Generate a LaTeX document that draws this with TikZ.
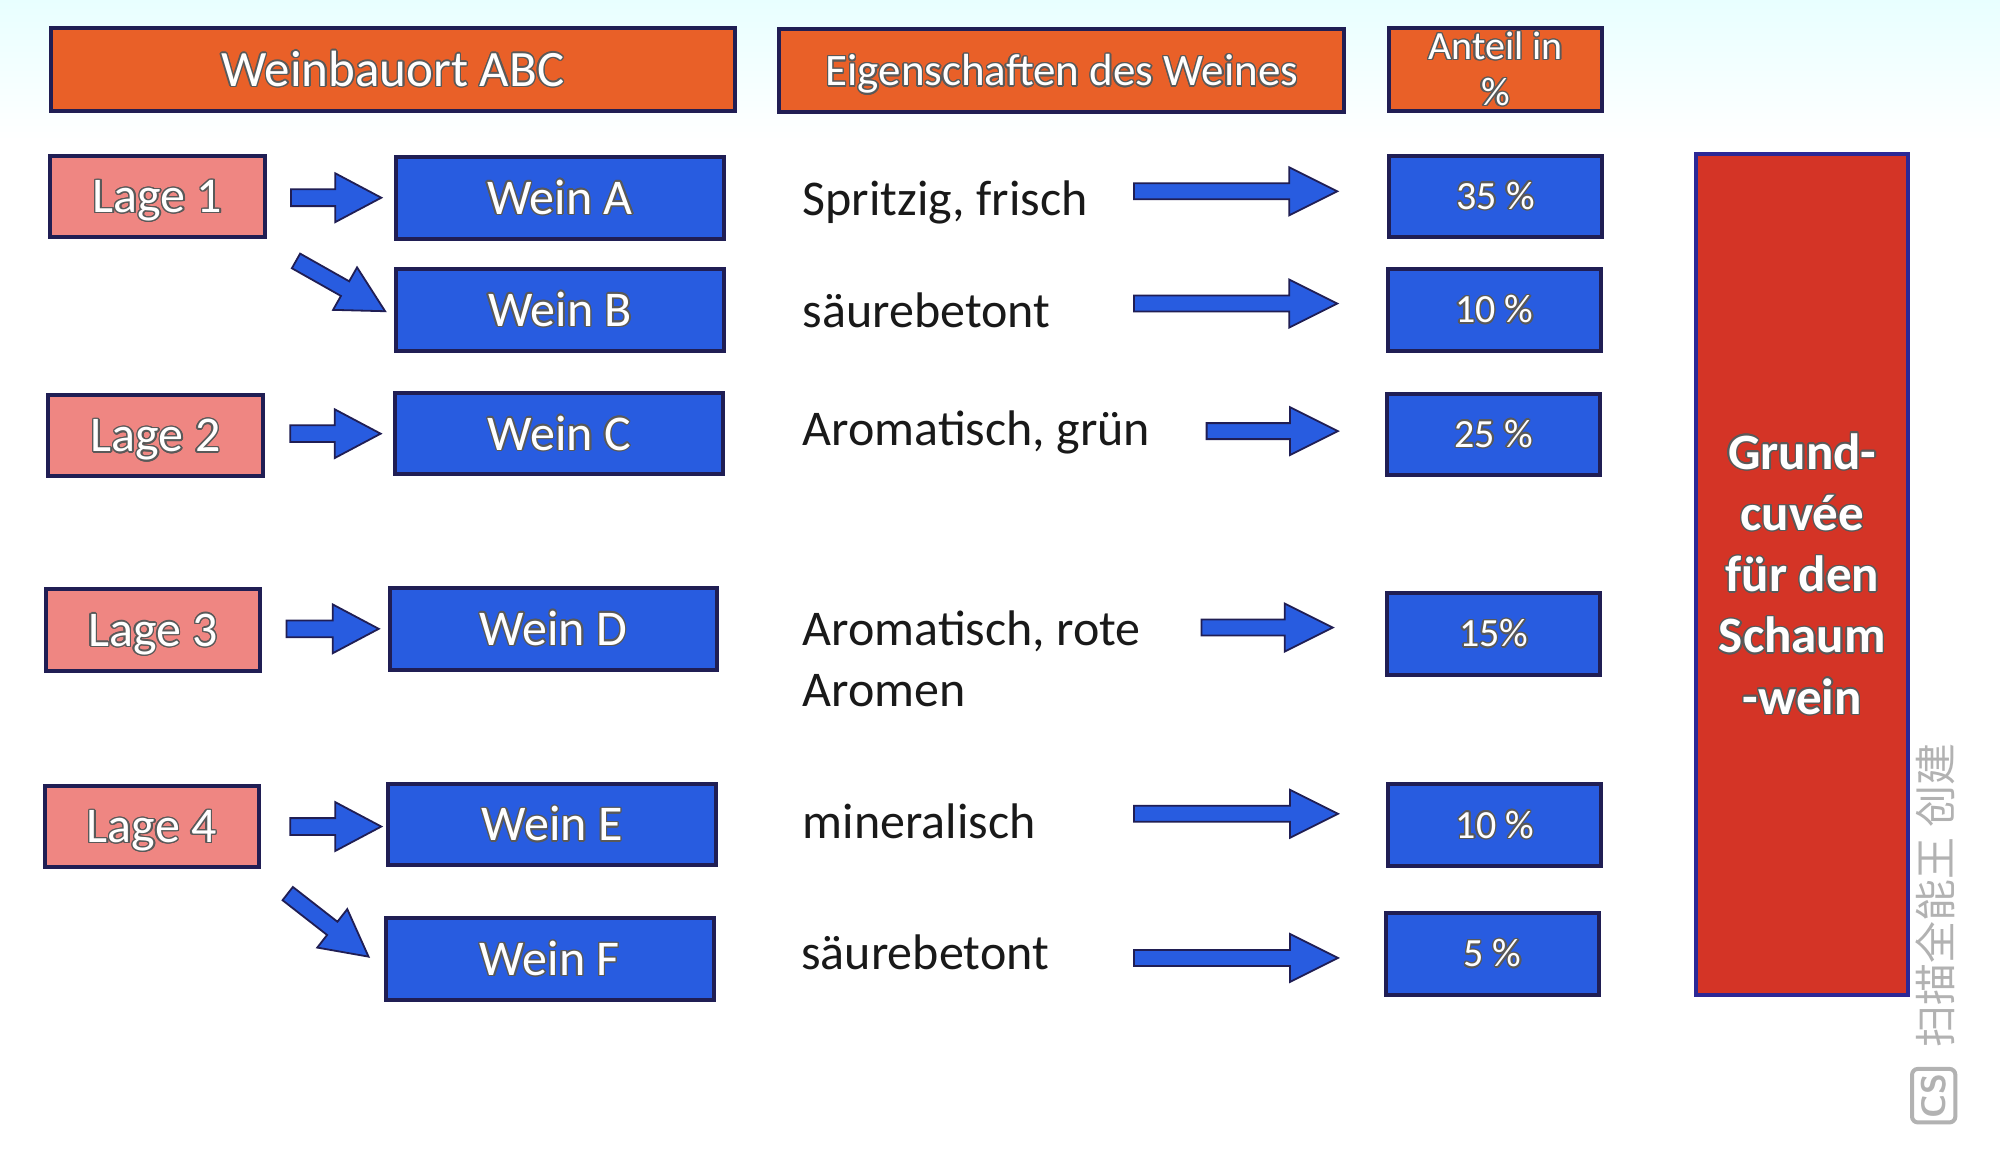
\documentclass[tikz,border=0pt]{standalone}
\usepackage{fontspec}
\setmainfont{Carlito}
\newfontfamily\cjk{Noto Sans CJK SC}
\usepackage{contour}
\contourlength{0.7pt}
\usetikzlibrary{calc}
\definecolor{navy}{RGB}{32,30,84}
\definecolor{orangeH}{RGB}{233,96,40}
\definecolor{salmon}{RGB}{239,134,130}
\definecolor{blueB}{RGB}{40,92,224}
\definecolor{redG}{RGB}{212,52,38}
\definecolor{borderG}{RGB}{44,40,150}
\definecolor{wmark}{RGB}{178,178,178}
\newcommand\uu{0.6378pt}
\newcommand\wt[1]{\contour{black!65}{#1}}
\newcommand\blockarrow[5]{%
  \path (#1) coordinate (ba-s) (#2) coordinate (ba-e);
  \path ($(ba-e)!#5!(ba-s)$) coordinate (ba-h);
  \filldraw[barrow] ($(ba-s)!#3!90:(ba-e)$) -- ($(ba-h)!#3!90:(ba-e)$) -- ($(ba-h)!#4!90:(ba-e)$) -- (ba-e) -- ($(ba-h)!#4!-90:(ba-e)$) -- ($(ba-h)!#3!-90:(ba-e)$) -- ($(ba-s)!#3!-90:(ba-e)$) -- cycle;
}
\tikzset{
  bx/.style={draw=navy, line width=2pt, inner sep=0pt, text=white},
  hdr/.style={bx, fill=orangeH, minimum height=65*\uu},
  lage/.style={bx, fill=salmon, minimum width=168*\uu, minimum height=64*\uu, text depth=0pt, font=\fontsize{25}{30}\selectfont},
  wein/.style={bx, fill=blueB, minimum width=257*\uu, minimum height=64*\uu, font=\fontsize{25}{30}\selectfont},
  pct/.style={bx, fill=blueB, minimum width=167*\uu, minimum height=64*\uu, font=\fontsize{20}{24}\selectfont},
  prop/.style={anchor=base west, text=black!90, inner sep=0pt, font=\fontsize{25}{30}\selectfont},
  barrow/.style={fill=blueB, draw=navy, line width=0.9pt, line join=miter},
}
\begin{document}
\begin{tikzpicture}[x=0.6378pt, y=-0.6378pt]
\useasboundingbox (0,0) rectangle (1568,913);
\fill[white] (0,0) rectangle (1568,913);
\shade[top color=cyan!9, bottom color=white] (0,0) rectangle (1568,110);

% headers
\node[hdr, minimum width=536*\uu, font=\fontsize{25.5}{30}\selectfont] (H1) at (308,54.5) {\wt{Weinbauort ABC}};
\node[hdr, minimum width=443*\uu, text depth=0pt, font=\fontsize{22.5}{27}\selectfont] (H2) at (832.5,55) {\wt{Eigenschaften des Weines}};
\node[hdr, minimum width=167*\uu, align=center, font=\fontsize{20}{23}\selectfont] (H3) at (1172.5,54.5) {\wt{Anteil in}\\\wt{\%}};

% Lagen
\node[lage] (L1) at (123.5,154) {\wt{Lage 1}};
\node[lage] (L2) at (122,341.5) {\wt{Lage 2}};
\node[lage] (L3) at (120,494) {\wt{Lage 3}};
\node[lage] (L4) at (119,648) {\wt{Lage 4}};

% Weine
\node[wein] (WA) at (439,155) {\wt{Wein A}};
\node[wein] (WB) at (439,243) {\wt{Wein B}};
\node[wein] (WC) at (438.5,340) {\wt{Wein C}};
\node[wein] (WD) at (434,493) {\wt{Wein D}};
\node[wein] (WE) at (433,646.5) {\wt{Wein E}};
\node[wein] (WF) at (431,752) {\wt{Wein F}};

% Eigenschaften
\node[prop] (T1) at (629,169) {Spritzig, frisch};
\node[prop] (T2) at (629,257) {säurebetont};
\node[prop] (T3) at (629,349) {Aromatisch, grün};
\node[prop] (T4) at (629,506) {Aromatisch, rote};
\node[prop] (T4b) at (629,554) {Aromen};
\node[prop] (T5) at (629,657) {mineralisch};
\node[prop] (T6) at (628,760) {säurebetont};

% Anteile
\node[pct] (P1) at (1172.5,154) {\wt{35 \%}};
\node[pct] (P2) at (1171.5,243) {\wt{10 \%}};
\node[pct] (P3) at (1171,340.5) {\wt{25 \%}};
\node[pct] (P4) at (1171,497) {\wt{15\%}};
\node[pct] (P5) at (1172,647) {\wt{10 \%}};
\node[pct] (P6) at (1170,748) {\wt{5 \%}};

% Grundcuvee
\node[draw=borderG, line width=2pt, fill=redG, minimum width=166*\uu, minimum height=659*\uu, inner sep=0pt,
      text=white, align=center, font=\bfseries\fontsize{25.5}{30.6}\selectfont] (G) at (1413,450.5)
      {\wt{Grund-}\\\wt{cuvée}\\\wt{für den}\\\wt{Schaum}\\\wt{-wein}};

% start points of the long arrows
\coordinate (sA) at (889,150);
\coordinate (sB) at (889,238);
\coordinate (sC) at (946,338);
\coordinate (sD) at (942,492);
\coordinate (sE) at (889,638);
\coordinate (sF) at (889,751);

% Lage -> Wein arrows
\blockarrow{$(L1.east)+(19,1)$}{$(WA.west)+(-10,0)$}{4.2pt}{12.2pt}{23pt}
\blockarrow{$(L1.south east)+(23,17)$}{$(WB.west)+(-7,1)$}{4.2pt}{12.2pt}{23pt}
\blockarrow{$(L2.east)+(20,-1.5)$}{$(WC.west)+(-10,0)$}{4.2pt}{12.2pt}{23pt}
\blockarrow{$(L3.east)+(19,-1)$}{$(WD.west)+(-7,0)$}{4.2pt}{12.2pt}{23pt}
\blockarrow{$(L4.east)+(23,0)$}{$(WE.west)+(-4,1.5)$}{4.2pt}{12.2pt}{23pt}
\blockarrow{$(L4.south east)+(21,19)$}{$(WF.west)+(-12,-2)$}{4.2pt}{12.2pt}{23pt}

% Eigenschaft -> Anteil arrows
\blockarrow{sA}{$(P1.west)+(-39,-4)$}{4pt}{12pt}{24pt}
\blockarrow{sB}{$(P2.west)+(-38,-5)$}{4pt}{12pt}{24pt}
\blockarrow{sC}{$(P3.west)+(-37,-2.5)$}{4pt}{12pt}{24pt}
\blockarrow{sD}{$(P4.west)+(-41,-5)$}{4pt}{12pt}{24pt}
\blockarrow{sE}{$(P5.west)+(-38,-9)$}{4pt}{12pt}{24pt}
\blockarrow{sF}{$(P6.west)+(-36,3)$}{4pt}{12pt}{24pt}

% watermark
\node[rotate=90, text=wmark, inner sep=0pt, font=\cjk\fontsize{21}{21}\selectfont] (WM) at (1517,702) {扫描全能王 创建};
\node[draw=wmark, line width=2pt, rounded corners=3pt, rotate=90, text=wmark, inner sep=2pt,
      minimum width=42*\uu, minimum height=34*\uu, font=\sffamily\bfseries\fontsize{17}{17}\selectfont] (CS) at (1516,859) {CS};
\end{tikzpicture}
\end{document}
